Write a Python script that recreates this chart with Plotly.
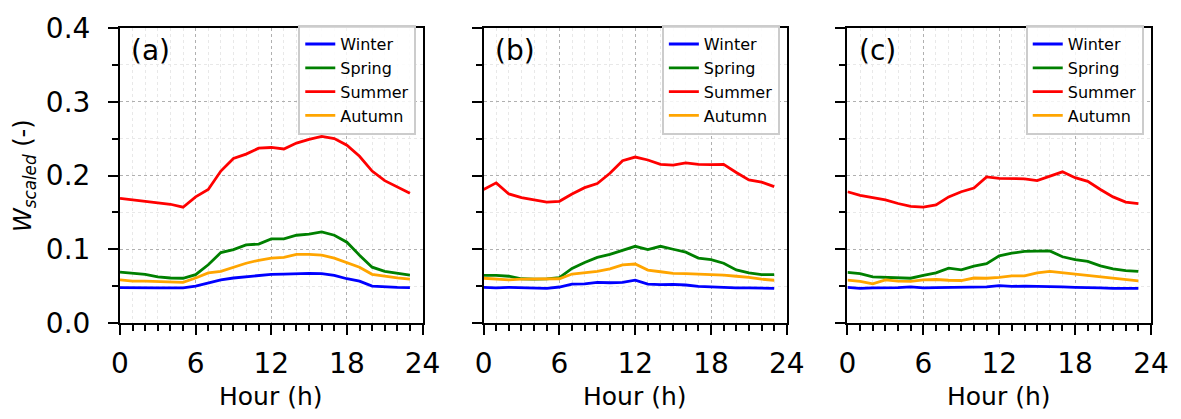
import plotly.graph_objects as go

hours = list(range(24))
seasons = ["Winter", "Spring", "Summer", "Autumn"]
colors = ["#0000ff", "#008000", "#ff0000", "#ffa500"]
panel_labels = ["(a)", "(b)", "(c)"]
x_ticks = [0, 6, 12, 18, 24]
y_ticks = [0.0, 0.1, 0.2, 0.3, 0.4]

a_winter = [0.048, 0.0475, 0.0475, 0.0475, 0.0475, 0.0475, 0.050, 0.0546, 0.0585, 0.061, 0.063, 0.0647,
            0.066, 0.0664, 0.0673, 0.0673, 0.067, 0.0647, 0.060, 0.0568, 0.050, 0.0488, 0.0484, 0.048]
a_spring = [0.069, 0.068, 0.066, 0.0625, 0.061, 0.0607, 0.0656, 0.079, 0.0955, 0.0995, 0.106, 0.107,
            0.114, 0.114, 0.119, 0.1205, 0.1236, 0.119, 0.1096, 0.092, 0.0757, 0.070, 0.068, 0.065]
a_summer = [0.169, 0.167, 0.165, 0.163, 0.161, 0.157, 0.171, 0.181, 0.206, 0.223, 0.229, 0.237,
            0.238, 0.236, 0.244, 0.249, 0.253, 0.250, 0.241, 0.226, 0.206, 0.193, 0.184, 0.176]
a_autumn = [0.0585, 0.0568, 0.0568, 0.0565, 0.0563, 0.055, 0.061, 0.068, 0.070, 0.0757, 0.081, 0.085,
            0.088, 0.089, 0.093, 0.093, 0.092, 0.088, 0.0818, 0.0757, 0.066, 0.0634, 0.0612, 0.0594]

b_winter = [0.0484, 0.0475, 0.0484, 0.048, 0.0475, 0.047, 0.0488, 0.0528, 0.053, 0.055, 0.0546, 0.055,
            0.058, 0.0528, 0.052, 0.0524, 0.0515, 0.0497, 0.049, 0.048, 0.0475, 0.0475, 0.0475, 0.047]
b_spring = [0.0647, 0.0647, 0.0634, 0.060, 0.0594, 0.0598, 0.0616, 0.074, 0.082, 0.089, 0.093, 0.0986,
            0.104, 0.0995, 0.104, 0.100, 0.096, 0.088, 0.086, 0.081, 0.072, 0.068, 0.0656, 0.0656]
b_summer = [0.181, 0.190, 0.175, 0.170, 0.167, 0.164, 0.165, 0.175, 0.1835, 0.189, 0.203, 0.220,
            0.225, 0.221, 0.215, 0.214, 0.217, 0.215, 0.2147, 0.215, 0.204, 0.194, 0.191, 0.185]
b_autumn = [0.0607, 0.0594, 0.0585, 0.0594, 0.0594, 0.0594, 0.060, 0.0664, 0.0686, 0.070, 0.0735, 0.0788,
            0.080, 0.0717, 0.0695, 0.0673, 0.067, 0.0664, 0.066, 0.065, 0.0634, 0.062, 0.0594, 0.058]

c_winter = [0.0484, 0.047, 0.0475, 0.0475, 0.048, 0.049, 0.0475, 0.048, 0.048, 0.0484, 0.0488, 0.049,
            0.0506, 0.0497, 0.050, 0.050, 0.0497, 0.049, 0.0484, 0.0484, 0.0475, 0.047, 0.047, 0.047]
c_spring = [0.0686, 0.067, 0.0625, 0.0616, 0.061, 0.0607, 0.0647, 0.068, 0.0744, 0.072, 0.077, 0.0805,
            0.091, 0.0946, 0.097, 0.0977, 0.0977, 0.0898, 0.0858, 0.0836, 0.0774, 0.0735, 0.071, 0.070]
c_summer = [0.178, 0.173, 0.170, 0.167, 0.162, 0.158, 0.157, 0.160, 0.171, 0.178, 0.183, 0.198,
            0.196, 0.196, 0.1955, 0.193, 0.199, 0.205, 0.197, 0.192, 0.181, 0.171, 0.164, 0.162]
c_autumn = [0.058, 0.0563, 0.053, 0.0585, 0.0568, 0.0565, 0.0585, 0.059, 0.058, 0.0576, 0.061, 0.0607,
            0.062, 0.0638, 0.064, 0.068, 0.070, 0.068, 0.067, 0.065, 0.062, 0.0607, 0.0585, 0.057]

panels = [
    [a_winter, a_spring, a_summer, a_autumn],
    [b_winter, b_spring, b_summer, b_autumn],
    [c_winter, c_spring, c_summer, c_autumn],
]

FONT = "DejaVu Sans"
W, H = 1181, 419
ML, MR, MT, MB = 120, 24, 20, 96
PW = W - ML - MR
PH = H - MT - MB

# panel pixel extents (left, right)
px_ext = [(120, 424.3), (485.7, 790.7), (851.7, 1157)]
domains = [[(l - ML) / PW, min(1.0, (r - ML) / PW)] for l, r in px_ext]

fig = go.Figure()
legend_names = ["legend", "legend2", "legend3"]

for p, series in enumerate(panels):
    xa = "x" if p == 0 else f"x{p+1}"
    ya = "y" if p == 0 else f"y{p+1}"
    for s, vals in enumerate(series):
        fig.add_trace(go.Scatter(
            x=hours, y=vals, mode="lines", name=seasons[s],
            line=dict(color=colors[s], width=2.8),
            xaxis=xa, yaxis=ya, legend=legend_names[p],
        ))

layout = dict(
    width=W, height=H,
    margin=dict(l=ML, r=MR, t=MT, b=MB, pad=0),
    paper_bgcolor="white", plot_bgcolor="white",
    font=dict(family=FONT, color="black"),
    showlegend=True,
)

for p in range(3):
    xk = "xaxis" if p == 0 else f"xaxis{p+1}"
    yk = "yaxis" if p == 0 else f"yaxis{p+1}"
    layout[xk] = dict(
        domain=domains[p], range=[0, 24], anchor="y" if p == 0 else f"y{p+1}",
        tickmode="array", tickvals=x_ticks, ticktext=[str(v) for v in x_ticks],
        ticks="outside", ticklen=10, tickwidth=2, tickcolor="black",
        tickfont=dict(size=28, family=FONT, color="black"),
        ticklabelstandoff=4,
        showline=True, linecolor="black", linewidth=2, mirror=True,
        showgrid=True, gridcolor="#b0b0b0", griddash="dot", gridwidth=1,
        zeroline=False, fixedrange=True,
        minor=dict(dtick=1, tick0=0, ticks="outside", ticklen=6, tickwidth=1.5, tickcolor="black",
                   showgrid=True, gridcolor="#e8e8e8", griddash="dot", gridwidth=1),
    )
    layout[yk] = dict(
        domain=[0, 1], range=[0, 0.4], anchor="x" if p == 0 else f"x{p+1}",
        tickmode="array", tickvals=y_ticks,
        ticktext=[f"{v:.1f}" for v in y_ticks],
        showticklabels=(p == 0),
        ticks="outside", ticklen=10, tickwidth=2, tickcolor="black",
        tickfont=dict(size=28, family=FONT, color="black"),
        ticklabelstandoff=12,
        showline=True, linecolor="black", linewidth=2, mirror=True,
        showgrid=True, gridcolor="#b0b0b0", griddash="dot", gridwidth=1,
        zeroline=False, fixedrange=True,
        minor=dict(dtick=0.05, tick0=0, ticks="outside", ticklen=6, tickwidth=1.5, tickcolor="black",
                   showgrid=True, gridcolor="#e8e8e8", griddash="dot", gridwidth=1),
    )
    leg_right = (418 + (px_ext[p][0] - 120) - ML) / PW
    layout[legend_names[p]] = dict(
        x=min(leg_right, 0.993), y=1 - (17 - MT) / PH, xanchor="right", yanchor="top",
        xref="paper", yref="paper",
        bgcolor="rgba(255,255,255,0.85)", bordercolor="#cccccc", borderwidth=2,
        font=dict(size=16, family=FONT, color="black"),
        itemwidth=30, tracegroupgap=0,
    )

fig.update_layout(**layout)

annotations = []
for p in range(3):
    xd = "x domain" if p == 0 else f"x{p+1} domain"
    yd = "y domain" if p == 0 else f"y{p+1} domain"
    annotations.append(dict(
        text=panel_labels[p], xref=xd, yref=yd, x=0.03, y=0.985,
        xanchor="left", yanchor="top", showarrow=False,
        font=dict(size=28, family=FONT, color="black"),
    ))
    center = (sum(px_ext[p]) / 2 - ML) / PW
    annotations.append(dict(
        text="Hour (h)", xref="paper", yref="paper", x=center, y=1 - (399 - MT) / PH,
        xanchor="center", yanchor="middle", showarrow=False,
        font=dict(size=25, family=FONT, color="black"),
    ))
annotations.append(dict(
    text="<i>W</i><sub><i>scaled</i></sub> (-)", xref="paper", yref="paper",
    x=(24 - ML) / PW, y=0.5, xanchor="center", yanchor="middle", textangle=-90,
    showarrow=False, font=dict(size=24, family=FONT, color="black"),
))
fig.update_layout(annotations=annotations)

fig.write_html("out.html")
